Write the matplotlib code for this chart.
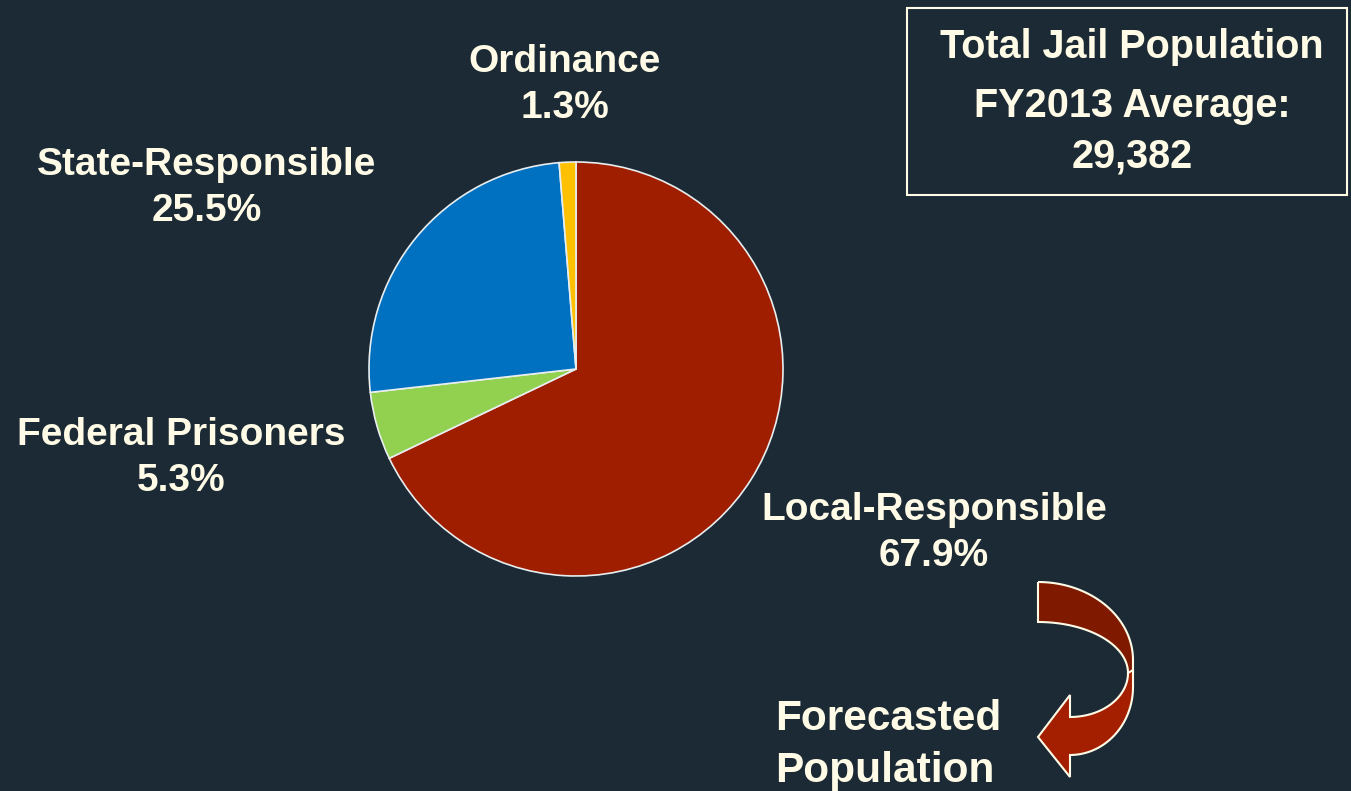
import matplotlib
matplotlib.use("Agg")
import matplotlib.pyplot as plt
from matplotlib.path import Path
from matplotlib.patches import PathPatch, Rectangle
import numpy as np

categories = ["Local-Responsible", "Federal Prisoners", "State-Responsible", "Ordinance"]
shares = [67.9, 5.3, 25.5, 1.3]
colors = ["#a01e00", "#92d050", "#0070c0", "#ffc000"]
box_lines = ["Total Jail Population", "FY2013 Average:", "29,382"]
forecast_lines = ["Forecasted", "Population"]

W, H = 1351, 791
BG = "#1c2a35"
CREAM = "#fffbe6"

plt.rcParams['font.family'] = ['Liberation Sans', 'DejaVu Sans']

fig = plt.figure(figsize=(W / 100, H / 100), dpi=100, facecolor=BG)
ax = fig.add_axes([0, 0, 1, 1])
ax.set_facecolor(BG)

def py(y):
    return H - y

# Pie
ax.pie(shares, colors=colors, startangle=90, counterclock=False,
       center=(576, py(369)), radius=207,
       wedgeprops=dict(edgecolor="#e8eef0", linewidth=1.2), frame=True)
ax.set_xlim(0, W)
ax.set_ylim(0, H)
ax.set_aspect('equal')
ax.axis('off')

# Labels (category + percent)
label_pos = {
    "Local-Responsible": (934, 510),
    "Federal Prisoners": (181, 435),
    "State-Responsible": (207, 165),
    "Ordinance": (565, 62),
}
for cat, val in zip(categories, shares):
    x, y = label_pos[cat]
    ax.text(x, py(y), cat, color=CREAM, fontsize=28, fontweight='bold',
            ha='center', va='center')
    ax.text(x, py(y + 46), f"{val:.1f}%", color=CREAM, fontsize=28,
            fontweight='bold', ha='center', va='center')

# Box
ax.add_patch(Rectangle((907, py(195)), 440, 187, fill=False,
                       edgecolor=CREAM, linewidth=1.5))
for line, y in zip(box_lines, [47, 106, 157]):
    ax.text(1132, py(y), line, color=CREAM, fontsize=28.5, fontweight='bold',
            ha='center', va='center')

# Forecast text
for line, y in zip(forecast_lines, [719, 771]):
    ax.text(775, py(y), line, color=CREAM, fontsize=30.5, fontweight='bold',
            ha='left', va='center')

# Curved arrow
def ell(cx, cy, a, b, t0, t1, n=40):
    t = np.radians(np.linspace(t0, t1, n))
    return [(cx + a * np.cos(tt), cy - b * np.sin(tt)) for tt in t]

upper = ell(1038, 660, 95, 78, 90, 0) + [(1133, 673)] + ell(1038, 673, 90, 51, 0, 90)
upper_pts = [(x, py(y)) for x, y in upper]
ax.add_patch(PathPatch(Path(upper_pts + [upper_pts[0]]),
                       facecolor="#7f1a00", edgecolor=CREAM, linewidth=1.5))

lower = [(1133, 670)] + ell(1070, 687, 63, 68, 0, -90)
lower += [(1070, 777), (1038, 737), (1070, 695)]
lower += ell(1070, 673, 58, 44, -90, 0)
lower_pts = [(x, py(y)) for x, y in lower]
ax.add_patch(PathPatch(Path(lower_pts + [lower_pts[0]]),
                       facecolor="#a31f00", edgecolor=CREAM, linewidth=1.5))

fig.savefig("out.png", dpi=100, facecolor=BG)
